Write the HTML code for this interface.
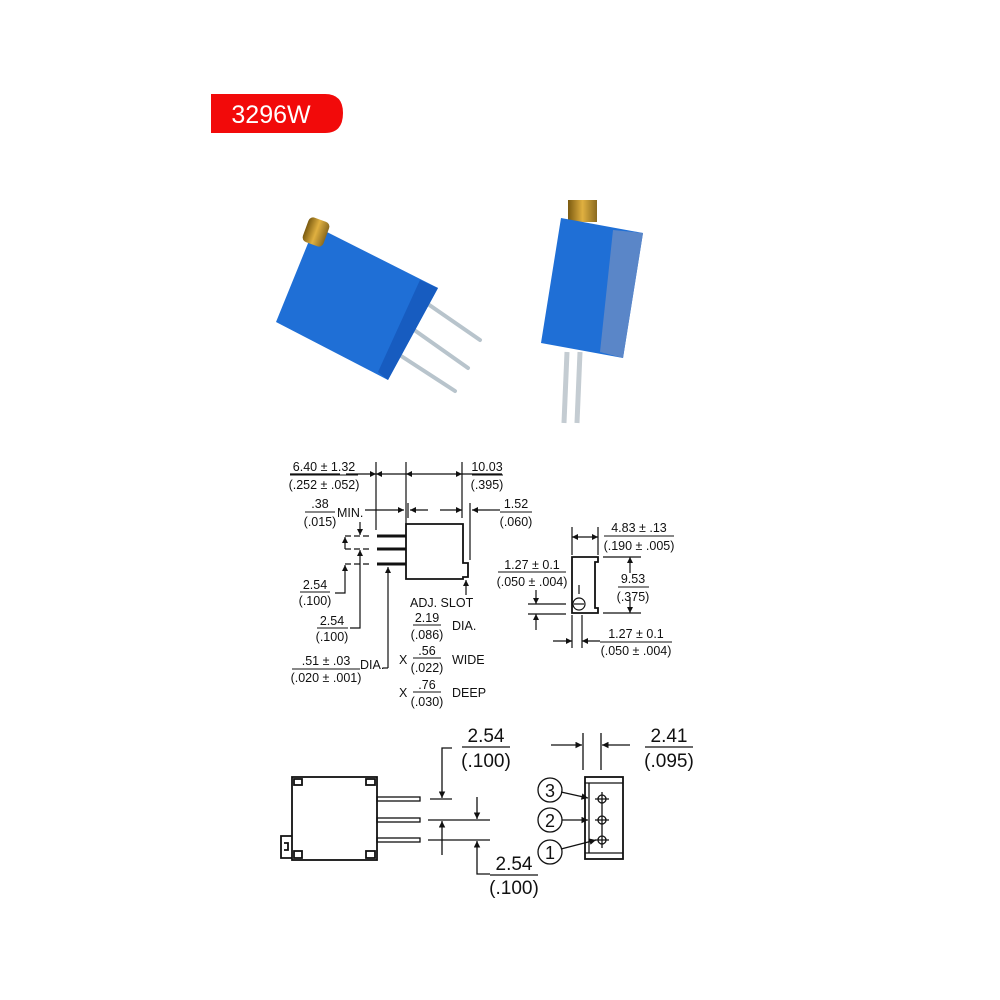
<!DOCTYPE html>
<html><head><meta charset="utf-8"><style>
html,body{margin:0;padding:0;background:#fff;}
svg{display:block;}
text{font-family:"Liberation Sans",Arial,sans-serif;fill:#111;}
</style></head><body>
<svg width="1000" height="1000" viewBox="0 0 1000 1000" xmlns="http://www.w3.org/2000/svg">
<defs>
<marker id="a" viewBox="0 0 10 10" refX="10" refY="5" markerWidth="7" markerHeight="5" orient="auto-start-reverse"><path d="M0,0 L10,5 L0,10 z" fill="#111"/></marker>
<linearGradient id="gold" x1="0" y1="0" x2="1" y2="0"><stop offset="0" stop-color="#7a5a10"/><stop offset="0.5" stop-color="#e0b040"/><stop offset="1" stop-color="#8a6a20"/></linearGradient>
</defs>
<!-- red label -->
<path d="M211,94 H325 Q343,94 343,113 Q343,133 325,133 H211 Z" fill="#f20a0a"/>
<text x="271" y="123" font-size="25" text-anchor="middle" style="fill:#fff">3296W</text>

<!-- photo 1 -->
<g stroke="#b8c4cc" stroke-width="4" stroke-linecap="round">
<line x1="425" y1="302" x2="480" y2="340"/>
<line x1="410" y1="327" x2="468" y2="368"/>
<line x1="395" y1="352" x2="455" y2="391"/>
</g>
<polygon points="315,226 438,288 388,380 276,322" fill="#1f6fd6"/>
<polygon points="420,280 438,288 388,380 378,372" fill="#175cc0"/>
<rect x="305" y="219" width="22" height="26" rx="5" fill="url(#gold)" transform="rotate(20 316 232)"/>
<!-- photo 2 -->
<g stroke="#c4ccd2" stroke-width="5">
<line x1="567" y1="352" x2="564" y2="423"/>
<line x1="580" y1="352" x2="577" y2="423"/>
</g>
<rect x="568" y="200" width="29" height="22" fill="url(#gold)"/>
<polygon points="561,218 643,233 623,358 541,343" fill="#1f6fd6"/>
<polygon points="613,230 643,233 623,358 600,352" fill="#5a86c8"/>

<!-- diagram 1 -->
<g stroke="#111" stroke-width="1.2" fill="none">
<line x1="290" y1="474" x2="340" y2="474"/>
<line x1="376" y1="462" x2="376" y2="530"/>
<line x1="406" y1="462" x2="406" y2="524"/>
<line x1="462" y1="462" x2="462" y2="518"/>
<line x1="346" y1="474" x2="376" y2="474" marker-end="url(#a)"/>
<line x1="406" y1="474" x2="376" y2="474" marker-end="url(#a)"/>
<line x1="406" y1="474" x2="462" y2="474" marker-start="url(#a)" marker-end="url(#a)"/>
<line x1="462" y1="474" x2="502" y2="474"/>
<line x1="365" y1="510" x2="404" y2="510" marker-end="url(#a)"/>
<line x1="408" y1="503" x2="408" y2="518"/>
<line x1="428" y1="510" x2="410" y2="510" marker-end="url(#a)"/>
<line x1="440" y1="510" x2="462" y2="510" marker-end="url(#a)"/>
<line x1="470" y1="503" x2="470" y2="560"/>
<line x1="490" y1="510" x2="472" y2="510" marker-end="url(#a)"/>
<line x1="490" y1="510" x2="500" y2="510"/>
<path d="M406,524 H463 V563 H468 V577 H463 V579 H406 Z" stroke-width="1.8"/>
<path d="M377,536 H406 M377,549 H406 M377,564 H406" stroke-width="3"/>
<path d="M345,536 H372 M345,549 H372 M345,564 H372" stroke-dasharray="6,3"/>
<line x1="360" y1="522" x2="360" y2="535" marker-end="url(#a)"/>
<line x1="345" y1="537" x2="345" y2="549" marker-start="url(#a)"/>
<line x1="360" y1="575" x2="360" y2="550" marker-end="url(#a)"/>
<line x1="345" y1="590" x2="345" y2="565" marker-end="url(#a)"/>
<path d="M345,590 V593 H335"/>
<path d="M360,575 V628 H350"/>
<path d="M388,668 V567" marker-end="url(#a)"/>
<line x1="388" y1="668" x2="383" y2="668"/>
<line x1="466" y1="595" x2="466" y2="580" marker-end="url(#a)"/>
<!-- side view -->
<path d="M572,557 H598 V562 H595 V608 H598 V613 H572 Z" stroke-width="1.8"/>
<circle cx="579" cy="604" r="6"/>
<line x1="574" y1="604" x2="584" y2="604"/>
<line x1="579" y1="585" x2="579" y2="594"/>
<line x1="572" y1="527" x2="572" y2="555"/>
<line x1="598" y1="527" x2="598" y2="555"/>
<line x1="572" y1="537" x2="598" y2="537" marker-start="url(#a)" marker-end="url(#a)"/>
<line x1="603" y1="557" x2="641" y2="557"/>
<line x1="603" y1="613" x2="641" y2="613"/>
<line x1="630" y1="573" x2="630" y2="557" marker-end="url(#a)"/>
<line x1="630" y1="597" x2="630" y2="613" marker-end="url(#a)"/>
<line x1="528" y1="604" x2="566" y2="604"/>
<line x1="528" y1="614" x2="566" y2="614"/>
<line x1="536" y1="590" x2="536" y2="604" marker-end="url(#a)"/>
<line x1="536" y1="630" x2="536" y2="614" marker-end="url(#a)"/>
<line x1="572" y1="615" x2="572" y2="648"/>
<line x1="582" y1="615" x2="582" y2="648"/>
<line x1="553" y1="641" x2="572" y2="641" marker-end="url(#a)"/>
<line x1="600" y1="641" x2="582" y2="641" marker-end="url(#a)"/>
<!-- fraction bars -->
<path d="M290,475 H358 M472,475 H503 M305,512 H335 M500,512 H532 M300,592 H330 M317,628 H348 M292,669 H360 M413,625 H441 M413,658 H441 M413,692 H441 M604,536 H674 M498,572 H566 M618,587 H649 M600,642 H672" stroke-width="1"/>
</g>
<g font-size="12.5">
<text x="324" y="471" text-anchor="middle">6.40 ± 1.32</text>
<text x="324" y="489" text-anchor="middle">(.252 ± .052)</text>
<text x="487" y="471" text-anchor="middle">10.03</text>
<text x="487" y="489" text-anchor="middle">(.395)</text>
<text x="320" y="508" text-anchor="middle">.38</text>
<text x="320" y="526" text-anchor="middle">(.015)</text>
<text x="337" y="517">MIN.</text>
<text x="516" y="508" text-anchor="middle">1.52</text>
<text x="516" y="526" text-anchor="middle">(.060)</text>
<text x="315" y="589" text-anchor="middle">2.54</text>
<text x="315" y="605" text-anchor="middle">(.100)</text>
<text x="332" y="625" text-anchor="middle">2.54</text>
<text x="332" y="641" text-anchor="middle">(.100)</text>
<text x="326" y="665" text-anchor="middle">.51 ± .03</text>
<text x="326" y="682" text-anchor="middle">(.020 ± .001)</text>
<text x="360" y="669">DIA.</text>
<text x="410" y="607">ADJ. SLOT</text>
<text x="427" y="622" text-anchor="middle">2.19</text>
<text x="427" y="639" text-anchor="middle">(.086)</text>
<text x="452" y="630">DIA.</text>
<text x="399" y="664">X</text>
<text x="427" y="655" text-anchor="middle">.56</text>
<text x="427" y="672" text-anchor="middle">(.022)</text>
<text x="452" y="664">WIDE</text>
<text x="399" y="697">X</text>
<text x="427" y="689" text-anchor="middle">.76</text>
<text x="427" y="706" text-anchor="middle">(.030)</text>
<text x="452" y="697">DEEP</text>
<text x="639" y="532" text-anchor="middle">4.83 ± .13</text>
<text x="639" y="550" text-anchor="middle">(.190 ± .005)</text>
<text x="532" y="569" text-anchor="middle">1.27 ± 0.1</text>
<text x="532" y="586" text-anchor="middle">(.050 ± .004)</text>
<text x="633" y="583" text-anchor="middle">9.53</text>
<text x="633" y="601" text-anchor="middle">(.375)</text>
<text x="636" y="638" text-anchor="middle">1.27 ± 0.1</text>
<text x="636" y="655" text-anchor="middle">(.050 ± .004)</text>
</g>

<!-- diagram 2 -->
<g stroke="#111" stroke-width="1.8" fill="none">
<rect x="292" y="777" width="85" height="83"/>
<rect x="294" y="779" width="8" height="6"/>
<rect x="366" y="779" width="9" height="6"/>
<rect x="294" y="851" width="8" height="7"/>
<rect x="366" y="851" width="9" height="7"/>
<path d="M292,836 H281 V858 H292 M284,843 H288 V850 H284"/>
<rect x="377" y="797" width="43" height="4" stroke-width="1.3"/>
<rect x="377" y="818" width="43" height="4" stroke-width="1.3"/>
<rect x="377" y="838" width="43" height="4" stroke-width="1.3"/>
<g stroke-width="1.3">
<line x1="430" y1="799" x2="452" y2="799"/>
<line x1="428" y1="820" x2="490" y2="820"/>
<line x1="428" y1="840" x2="490" y2="840"/>
<path d="M452,748 H442 V798" marker-end="url(#a)"/>
<line x1="477" y1="797" x2="477" y2="819" marker-end="url(#a)"/>
<path d="M442,855 V821" marker-end="url(#a)"/>
<path d="M490,874 H477 V841" marker-end="url(#a)"/>
<path d="M462,747 H510 M490,875 H538 M645,747 H693"/>
<line x1="583" y1="733" x2="583" y2="770"/>
<line x1="601" y1="733" x2="601" y2="770"/>
<line x1="551" y1="745" x2="582" y2="745" marker-end="url(#a)"/>
<line x1="630" y1="745" x2="602" y2="745" marker-end="url(#a)"/>
</g>
<rect x="585" y="777" width="38" height="82"/>
<line x1="585" y1="783" x2="623" y2="783" stroke-width="1.3"/>
<line x1="585" y1="853" x2="623" y2="853" stroke-width="1.3"/>
<line x1="589" y1="783" x2="589" y2="853" stroke-width="1.3"/>
<g stroke-width="1.3">
<circle cx="602" cy="799" r="4"/><circle cx="602" cy="820" r="4"/><circle cx="602" cy="840" r="4"/>
<path d="M602,792 V848 M595,799 H609 M595,820 H609 M595,840 H609"/>
<circle cx="550" cy="790" r="12"/><circle cx="550" cy="820" r="12"/><circle cx="550" cy="852" r="12"/>
<line x1="561" y1="792" x2="588" y2="798" marker-end="url(#a)"/>
<line x1="562" y1="820" x2="588" y2="820" marker-end="url(#a)"/>
<line x1="561" y1="849" x2="596" y2="840" marker-end="url(#a)"/>
</g>
</g>
<g font-size="19">
<text x="486" y="742" text-anchor="middle">2.54</text>
<text x="486" y="767" text-anchor="middle">(.100)</text>
<text x="514" y="870" text-anchor="middle">2.54</text>
<text x="514" y="894" text-anchor="middle">(.100)</text>
<text x="669" y="742" text-anchor="middle">2.41</text>
<text x="669" y="767" text-anchor="middle">(.095)</text>
<text x="550" y="797" text-anchor="middle" font-size="18">3</text>
<text x="550" y="827" text-anchor="middle" font-size="18">2</text>
<text x="550" y="859" text-anchor="middle" font-size="18">1</text>
</g>
</svg>
</body></html>
